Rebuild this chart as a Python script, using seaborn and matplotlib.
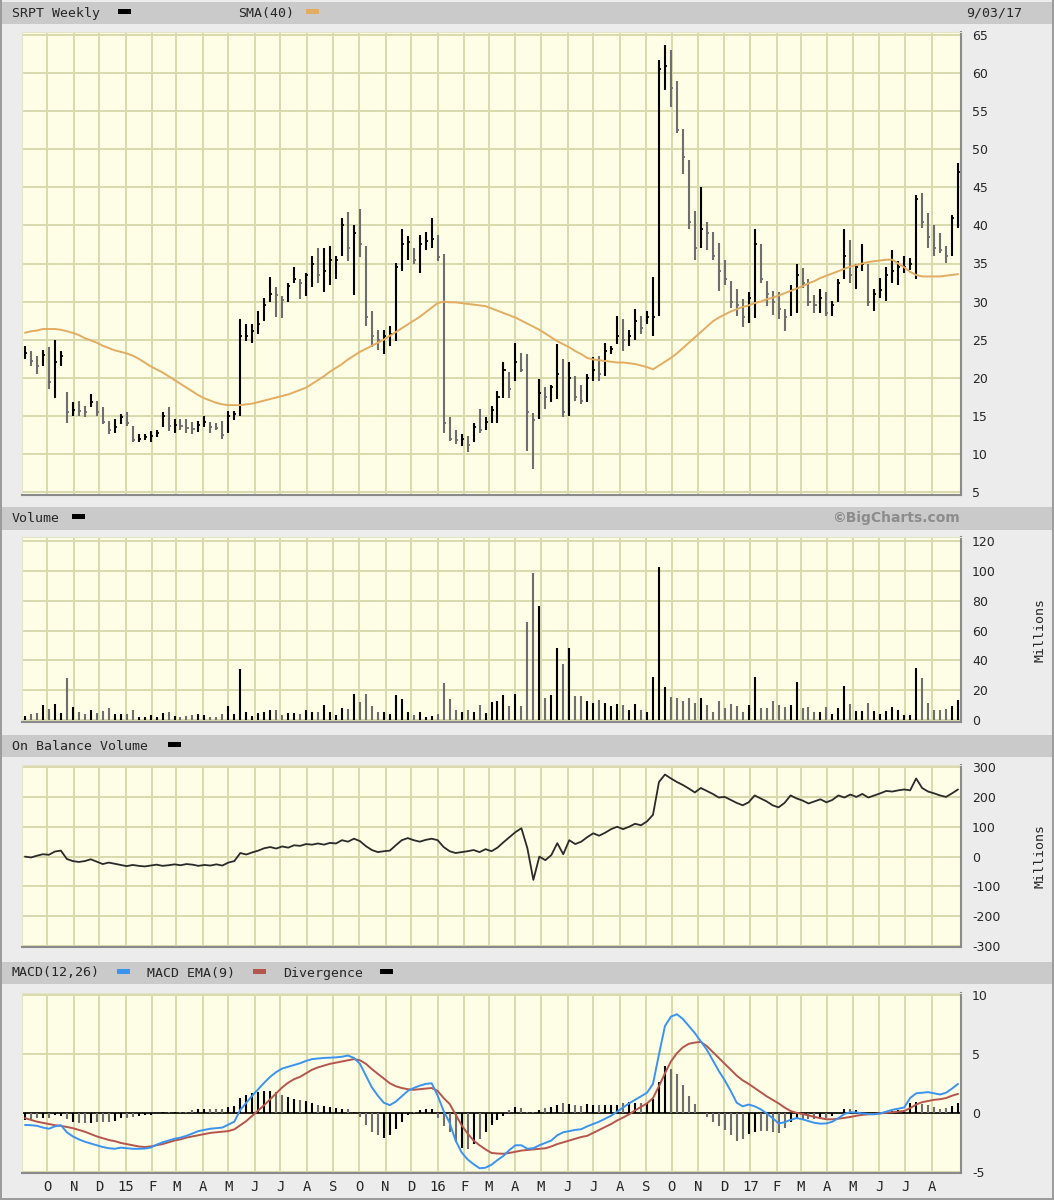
import numpy as np
import pandas as pd
import seaborn as sns
import matplotlib.pyplot as plt
import matplotlib.dates as mdates
from matplotlib.patches import Rectangle

# weekly bars, Sep 2014 - Sep 2017
weeks = pd.date_range("2014-09-05", periods=157, freq="7D")

high = [24.2, 23.5, 22.9, 23.7, 24.0, 25.0, 23.5, 18.1, 16.8, 16.9,
        16.3, 17.8, 17.0, 16.1, 14.3, 14.6, 15.2, 15.5, 13.7, 12.6,
        12.6, 13.0, 13.2, 15.5, 16.1, 14.6, 14.6, 14.6, 14.2, 14.3,
        15.0, 14.2, 14.0, 14.3, 15.6, 15.6, 27.7, 27.0, 27.0, 28.8,
        30.5, 33.2, 31.9, 30.7, 32.5, 34.6, 33.0, 33.8, 36.0, 37.1,
        37.1, 37.3, 36.0, 41.0, 41.7, 40.1, 42.1, 37.3, 28.7, 26.3,
        26.3, 26.8, 35.1, 39.5, 38.6, 37.1, 38.8, 39.1, 41.0, 38.8,
        36.2, 14.8, 13.2, 12.6, 12.4, 14.1, 15.9, 14.8, 16.3, 18.3,
        22.0, 20.7, 24.6, 23.3, 23.1, 15.4, 19.8, 18.8, 19.1, 24.4,
        22.4, 22.0, 20.2, 19.1, 20.5, 22.7, 22.9, 24.6, 24.2, 28.1,
        27.7, 26.3, 29.0, 28.1, 28.7, 33.2, 61.7, 63.7, 63.0, 58.9,
        52.6, 48.6, 41.9, 45.1, 40.5, 39.2, 37.7, 35.5, 32.7, 31.6,
        30.3, 31.2, 39.5, 37.5, 32.7, 31.4, 31.2, 29.0, 32.2, 34.9,
        34.4, 32.9, 30.9, 31.6, 31.2, 30.1, 32.9, 39.5, 38.1, 34.9,
        37.5, 34.9, 31.6, 33.1, 34.6, 36.8, 35.3, 36.0, 35.7, 44.0,
        44.3, 41.6, 40.1, 39.0, 37.3, 41.4, 48.2]

low = [22.4, 21.5, 20.5, 21.5, 18.5, 17.4, 21.5, 14.1, 15.0, 15.0,
       14.8, 16.1, 15.0, 13.9, 12.6, 12.8, 13.9, 13.6, 11.5, 11.5,
       11.8, 11.6, 12.2, 13.5, 13.0, 12.8, 13.2, 12.8, 12.6, 12.9,
       13.5, 12.8, 13.2, 11.9, 12.8, 14.5, 15.0, 24.8, 24.6, 25.7,
       27.4, 30.0, 28.0, 27.9, 30.0, 32.5, 30.3, 30.7, 31.9, 32.5,
       31.3, 32.2, 33.0, 36.0, 35.3, 30.9, 35.8, 26.8, 24.0, 23.7,
       23.1, 24.2, 24.8, 34.0, 35.5, 34.9, 33.8, 36.8, 37.1, 35.3,
       12.8, 11.7, 11.3, 11.1, 10.2, 11.5, 12.8, 13.2, 14.1, 14.1,
       17.4, 17.4, 19.6, 20.7, 10.4, 8.0, 14.6, 15.9, 16.8, 17.2,
       14.8, 15.0, 17.0, 16.5, 16.8, 19.6, 19.6, 20.2, 23.1, 24.4,
       23.5, 24.2, 25.0, 25.7, 27.0, 25.5, 28.1, 57.8, 55.6, 52.2,
       46.7, 39.5, 35.5, 37.1, 36.8, 35.5, 31.4, 32.2, 29.2, 28.1,
       26.6, 27.2, 27.9, 32.5, 29.4, 28.3, 27.7, 26.1, 28.1, 28.5,
       31.8, 29.4, 28.5, 28.5, 28.1, 28.1, 29.9, 32.9, 32.5, 31.6,
       34.0, 29.4, 28.7, 30.5, 30.1, 32.5, 32.2, 33.8, 34.2, 32.9,
       39.7, 37.1, 36.0, 36.4, 35.1, 36.0, 39.7]

close = [23.3, 22.2, 21.5, 23.0, 19.5, 22.0, 22.8, 15.5, 15.8, 15.6,
         15.5, 16.8, 15.5, 14.2, 13.2, 13.5, 14.8, 14.0, 11.8, 12.0,
         12.2, 12.4, 12.8, 15.0, 13.6, 13.8, 13.6, 13.4, 13.3, 13.8,
         14.2, 13.5, 13.4, 12.5, 15.0, 15.3, 25.5, 25.5, 26.2, 27.0,
         29.5, 31.0, 30.8, 30.2, 32.0, 33.0, 32.5, 33.5, 35.0, 33.5,
         34.0, 35.5, 35.5, 40.0, 37.0, 39.0, 37.5, 28.0, 25.5, 25.0,
         25.5, 25.8, 34.5, 37.5, 37.8, 35.5, 37.5, 38.0, 38.2, 35.8,
         14.0, 12.0, 11.8, 12.0, 11.2, 13.5, 13.2, 14.2, 15.8, 17.5,
         21.0, 18.5, 22.0, 21.0, 15.5, 14.5, 18.0, 17.5, 18.8, 20.5,
         15.5, 20.0, 17.5, 17.0, 20.0, 21.0, 20.5, 23.5, 23.8, 25.5,
         25.0, 25.5, 27.5, 26.5, 28.0, 28.0, 60.5, 61.0, 58.0, 52.5,
         49.0, 40.5, 37.0, 39.5, 39.0, 36.0, 34.0, 33.0, 30.0, 29.5,
         28.0, 30.5, 37.5, 33.0, 31.0, 30.0, 29.0, 28.0, 31.5, 33.5,
         32.5, 30.0, 29.5, 30.5, 28.5, 29.5, 32.5, 36.0, 33.5, 34.5,
         35.0, 30.0, 31.0, 31.5, 33.5, 34.0, 34.5, 34.5, 35.0, 43.5,
         40.5, 38.5, 37.0, 36.8, 36.0, 41.0, 47.0]

sma40 = [25.9, 26.1, 26.2, 26.4, 26.4, 26.4, 26.3, 26.1, 25.9, 25.6,
         25.2, 24.9, 24.6, 24.2, 23.9, 23.6, 23.4, 23.2, 22.9, 22.5,
         22.0, 21.5, 21.1, 20.7, 20.2, 19.7, 19.2, 18.7, 18.2, 17.7,
         17.3, 17.0, 16.7, 16.5, 16.4, 16.4, 16.4, 16.5, 16.6, 16.8,
         17.0, 17.2, 17.4, 17.6, 17.8, 18.1, 18.4, 18.7, 19.2, 19.7,
         20.2, 20.8, 21.3, 21.8, 22.4, 22.9, 23.4, 23.8, 24.2, 24.6,
         25.0, 25.5, 26.0, 26.5, 27.0, 27.5, 28.0, 28.6, 29.2, 29.8,
         30.0, 29.9, 29.9, 29.8, 29.7, 29.6, 29.5, 29.4, 29.1, 28.8,
         28.5, 28.2, 27.9, 27.5, 27.1, 26.7, 26.3, 25.8, 25.3, 24.8,
         24.4, 24.0, 23.5, 23.1, 22.6, 22.4, 22.3, 22.2, 22.1, 22.0,
         22.0, 21.9, 21.8, 21.6, 21.4, 21.1, 21.6, 22.1, 22.6, 23.2,
         23.9, 24.6, 25.3, 26.0, 26.7, 27.4, 27.9, 28.3, 28.7, 29.0,
         29.3, 29.5, 29.8, 30.0, 30.3, 30.5, 30.8, 31.1, 31.4, 31.7,
         32.0, 32.4, 32.7, 33.1, 33.4, 33.7, 34.0, 34.3, 34.6, 34.8,
         35.0, 35.2, 35.3, 35.4, 35.5, 35.5, 35.0, 34.5, 33.9, 33.5,
         33.3, 33.3, 33.3, 33.3, 33.4, 33.5, 33.6]

# millions of shares
volume = [3, 4, 4.5, 10, 7.4, 11, 4.5, 28, 8.5, 5.6,
          4, 7, 5, 6, 7.8, 4.2, 4.2, 4.2, 7, 2,
          2.2, 3.4, 2, 4.5, 5.6, 3, 2, 3, 3.4, 4,
          3.4, 2.2, 2, 4.2, 9.2, 4, 34, 5.6, 3, 4.7,
          5.6, 7, 7, 3.4, 4.5, 4.5, 4.2, 7, 5.6, 5.6,
          10, 5.6, 3.4, 7.8, 7.4, 17.5, 11.9, 17.2, 9.2, 5.6,
          5.6, 4.2, 16.5, 13.9, 5.6, 3.4, 5.6, 2, 3, 4.2,
          24.6, 13.9, 7, 5.6, 7, 5.1, 10, 4.5, 11.9, 12.8,
          16.8, 9.2, 17.5, 9.2, 66, 98.4, 76.4, 15, 16.6, 48.4,
          37.5, 48.4, 16, 16, 12.5, 11.6, 13.6, 11.4, 9.1, 10.5,
          9.8, 6.8, 10.5, 6.8, 5.2, 29, 102.5, 22.3, 15.5, 14.8,
          12.5, 14.8, 11.4, 14.8, 10.2, 5.2, 12.5, 8, 10.5, 9.5,
          5.2, 9.8, 28.6, 8, 8, 12.5, 9.8, 8.6, 9.8, 25.7,
          8, 8.6, 5.2, 5.2, 8.6, 4, 8, 22.7, 10.5, 6.4,
          6.4, 11.4, 6.4, 4.1, 6.4, 8.6, 6.8, 3.6, 3.6, 34.8,
          28, 11.4, 6.8, 6.8, 7.5, 9.1, 13.6]

obv = [0, -3, 3, 8, 6, 17, 20, -8, -15, -18,
       -15, -9, -17, -25, -20, -24, -28, -32, -28, -31,
       -33, -30, -27, -31, -29, -26, -29, -25, -27, -31,
       -28, -30, -26, -30, -20, -15, 12, 7, 14, 20,
       28, 32, 27, 34, 30, 38, 36, 42, 40, 44,
       40, 46, 44, 55, 50, 60, 52, 35, 22, 15,
       18, 20, 38, 55, 62, 55, 50, 56, 60, 55,
       32, 18, 12, 15, 18, 22, 15, 25, 18, 30,
       48, 65, 82, 95, 28, -78, 0, -12, 5, 45,
       8, 55, 42, 50, 65, 78, 70, 80, 92, 100,
       92, 100, 110, 105, 118, 140, 250, 275, 262, 250,
       240, 228, 215, 230, 220, 210, 198, 200, 190, 180,
       172, 182, 205, 195, 185, 172, 165, 180, 205, 195,
       188, 178, 185, 192, 182, 190, 205, 198, 208, 200,
       210, 198, 205, 212, 220, 218, 222, 225, 222, 262,
       230, 218, 212, 205, 200, 212, 225]

macd = [-0.98, -1.0, -1.05, -1.2, -1.3, -1.1, -1.0, -1.6, -1.95, -2.2,
        -2.4, -2.55, -2.7, -2.85, -2.95, -3.0, -2.9, -2.95, -3.0, -3.0,
        -2.98, -2.9, -2.65, -2.45, -2.3, -2.15, -2.05, -1.9, -1.7, -1.5,
        -1.4, -1.3, -1.25, -1.2, -0.95, -0.7, 0.3, 0.9, 1.5, 2.05,
        2.6, 3.1, 3.5, 3.8, 3.95, 4.1, 4.25, 4.45, 4.6, 4.65,
        4.7, 4.72, 4.75, 4.8, 4.9, 4.7, 4.2, 3.2, 2.2, 1.5,
        0.9, 0.7, 1.0, 1.45, 1.9, 2.15, 2.35, 2.5, 2.55, 1.5,
        0.2, -0.8, -2.3, -3.3, -3.9, -4.3, -4.65, -4.6, -4.35, -3.95,
        -3.6, -3.1, -2.7, -2.7, -3.0, -2.95, -2.7, -2.5, -2.3, -1.85,
        -1.6, -1.5, -1.4, -1.34, -1.1, -0.9, -0.7, -0.45, -0.2, 0.15,
        0.5, 0.85, 1.15, 1.45, 1.75, 2.5, 5.0, 7.4, 8.2, 8.4,
        8.0, 7.4, 6.8, 6.1, 5.4, 4.5, 3.6, 2.8, 1.9, 0.9,
        0.6, 0.75, 0.6, 0.35, 0.0, -0.4, -0.85, -0.75, -0.55, -0.4,
        -0.5, -0.65, -0.8, -0.87, -0.85, -0.7, -0.4, -0.05, 0.1, 0.08,
        0.0, -0.05, -0.08, 0.0, 0.15, 0.3, 0.4, 0.5, 1.3, 1.7,
        1.75, 1.8, 1.7, 1.6, 1.75, 2.1, 2.5]

macd_ema = [-0.4, -0.55, -0.7, -0.8, -0.9, -1.0, -1.06, -1.15, -1.25, -1.4,
            -1.55, -1.75, -1.95, -2.1, -2.25, -2.35, -2.5, -2.6, -2.7, -2.8,
            -2.85, -2.8, -2.7, -2.6, -2.45, -2.3, -2.2, -2.05, -1.95, -1.85,
            -1.75, -1.65, -1.6, -1.55, -1.5, -1.35, -1.0, -0.65, -0.2, 0.25,
            0.7, 1.2, 1.7, 2.2, 2.6, 2.9, 3.1, 3.4, 3.7, 3.9,
            4.05, 4.2, 4.3, 4.4, 4.5, 4.6, 4.5, 4.2, 3.75, 3.35,
            2.95, 2.55, 2.3, 2.15, 2.05, 2.0, 2.05, 2.1, 2.15, 1.9,
            1.3, 0.8, -0.1, -1.0, -1.7, -2.3, -2.7, -3.05, -3.35, -3.4,
            -3.42, -3.35, -3.25, -3.15, -3.1, -3.05, -3.0, -2.96, -2.8, -2.6,
            -2.45, -2.3, -2.15, -2.0, -1.9, -1.65, -1.4, -1.15, -0.9, -0.6,
            -0.35, -0.08, 0.25, 0.55, 0.85, 1.3, 2.3, 3.4, 4.4, 5.1,
            5.6, 5.9, 6.0, 6.06, 5.7, 5.2, 4.7, 4.2, 3.7, 3.2,
            2.8, 2.5, 2.15, 1.8, 1.45, 1.15, 0.85, 0.5, 0.2, 0.05,
            -0.05, -0.17, -0.3, -0.4, -0.5, -0.5, -0.45, -0.38, -0.3, -0.2,
            -0.12, -0.08, -0.05, 0.0, 0.05, 0.1, 0.15, 0.2, 0.45, 0.75,
            0.95, 1.05, 1.15, 1.2, 1.3, 1.5, 1.65]

divergence = [-0.58, -0.45, -0.35, -0.4, -0.4, -0.1, -0.2, -0.45, -0.7, -0.8,
              -0.85, -0.8, -0.75, -0.75, -0.7, -0.65, -0.4, -0.35, -0.3, -0.2,
              -0.13, -0.1, 0.05, 0.15, 0.15, 0.15, 0.15, 0.15, 0.25, 0.35,
              0.35, 0.35, 0.35, 0.35, 0.55, 0.65, 1.3, 1.55, 1.7, 1.8,
              1.9, 1.9, 1.8, 1.6, 1.35, 1.2, 1.15, 1.05, 0.9, 0.75,
              0.65, 0.52, 0.45, 0.4, 0.4, 0.1, -0.3, -1.0, -1.55, -1.85,
              -2.05, -1.85, -1.3, -0.7, -0.15, 0.15, 0.3, 0.4, 0.4, -0.4,
              -1.1, -1.6, -2.4, -2.9, -3.05, -2.6, -2.2, -1.55, -1.0, -0.55,
              -0.2, 0.25, 0.55, 0.45, 0.1, 0.1, 0.3, 0.46, 0.5, 0.75,
              0.85, 0.8, 0.75, 0.66, 0.8, 0.75, 0.7, 0.7, 0.7, 0.75,
              0.85, 0.93, 0.9, 0.9, 0.9, 1.2, 2.7, 4.0, 3.8, 3.3,
              2.4, 1.5, 0.8, 0.04, -0.3, -0.7, -1.1, -1.4, -1.8, -2.3,
              -2.2, -1.75, -1.55, -1.45, -1.45, -1.55, -1.7, -1.25, -0.75, -0.45,
              -0.45, -0.48, -0.5, -0.47, -0.35, -0.2, 0.05, 0.33, 0.4, 0.28,
              0.12, 0.03, -0.03, 0.0, 0.1, 0.2, 0.25, 0.3, 0.85, 0.95,
              0.8, 0.75, 0.55, 0.4, 0.45, 0.6, 0.85]

month_ticks = pd.date_range("2014-10-01", periods=35, freq="MS")
month_labels = ["O", "N", "D", "15", "F", "M", "A", "M", "J", "J", "A", "S",
                "O", "N", "D", "16", "F", "M", "A", "M", "J", "J", "A", "S",
                "O", "N", "D", "17", "F", "M", "A", "M", "J", "J", "A"]

# colours
PAGE = "#ececec"
BAND = "#cacaca"
PLOT_BG = "#fefee6"
GRID = "#dadaae"
SMA_C = "#e2ac62"
BLUE = "#3a93f0"
RED = "#b5554c"

W, H = 1054, 1200
x = mdates.date2num(weeks)
mx = mdates.date2num(month_ticks)
xlim = (mdates.date2num(pd.Timestamp("2014-09-01 12:00")),
        mdates.date2num(pd.Timestamp("2017-09-04 12:00")))
up = [True] + [close[i] >= close[i - 1] for i in range(1, len(close))]
bar_cols = ["#000000" if u else "#6e6e6e" for u in up]

sns.set_style("white")
plt.rcParams["font.family"] = ["DejaVu Sans"]
plt.rcParams["axes.unicode_minus"] = False

fig = plt.figure(figsize=(W / 100, H / 100), dpi=100)
fig.patch.set_facecolor(PAGE)


def band(y0, y1):
    fig.add_artist(Rectangle((0, 1 - y1 / H), 1, (y1 - y0) / H, transform=fig.transFigure,
                             facecolor=BAND, edgecolor="none", zorder=0))


def dash(xp, yp, color):
    fig.add_artist(Rectangle((xp / W, 1 - (yp + 3) / H), 13 / W, 5 / H, transform=fig.transFigure,
                             facecolor=color, edgecolor="none"))


def label(xp, yp, s, **kw):
    fig.text(xp / W, 1 - yp / H, s, va="center", family="DejaVu Sans Mono", fontsize=9.5, **kw)


def panel(top, bottom, ylim, yticks):
    ax = fig.add_axes([22 / W, 1 - bottom / H, 939 / W, (bottom - top) / H])
    ax.set_facecolor(PLOT_BG)
    ax.set_xlim(*xlim)
    ax.set_ylim(*ylim)
    ax.set_yticks(yticks)
    ax.set_xticks(mx)
    ax.yaxis.tick_right()
    ax.tick_params(axis="y", length=0, pad=8, labelsize=9)
    ax.tick_params(axis="x", length=0, labelbottom=False)
    ax.grid(True, color=GRID, lw=1.4)
    ax.set_axisbelow(True)
    for s in ["left", "top"]:
        ax.spines[s].set_color("#e4e4c8")
    for s in ["right", "bottom"]:
        ax.spines[s].set_color("#8a8a8a")
        ax.spines[s].set_linewidth(1.5)
    return ax


# header bands
band(2, 24)
band(507, 530)
band(735, 757)
band(962, 984)

# thin frame round the picture
fig.add_artist(Rectangle((0, 0), 2 / W, 1, transform=fig.transFigure,
                         facecolor="#9c9c9c", edgecolor="none"))
fig.add_artist(Rectangle((1 - 2 / W, 0), 2 / W, 1, transform=fig.transFigure,
                         facecolor="#9c9c9c", edgecolor="none"))
fig.add_artist(Rectangle((0, 0), 1, 2 / H, transform=fig.transFigure,
                         facecolor="#9c9c9c", edgecolor="none"))

label(12, 13, "SRPT Weekly")
dash(118, 11, "black")
label(238, 13, "SMA(40)")
dash(306, 11, SMA_C)
label(1022, 13, "9/03/17", ha="right")

label(12, 518, "Volume")
dash(72, 516, "black")
fig.text(960 / W, 1 - 518 / H, "\u00a9BigCharts.com", ha="right", va="center",
         fontsize=10, fontweight="bold", color="#8c8c8c")

label(12, 746, "On Balance Volume")
dash(168, 744, "black")

label(12, 973, "MACD(12,26)")
dash(117, 971, BLUE)
label(147, 973, "MACD EMA(9)")
dash(253, 971, RED)
label(283, 973, "Divergence")
dash(380, 971, "black")

# price panel
ax_p = panel(32, 495, (4.6, 65.4), range(5, 70, 5))
ax_p.vlines(x, low, high, colors=bar_cols, lw=1.5)
ax_p.hlines(close, x, x + 2.4, colors=bar_cols, lw=1.3)
sns.lineplot(x=x, y=sma40, ax=ax_p, color=SMA_C, lw=1.4)

# volume panel
ax_v = panel(537, 722, (-1.3, 122.7), range(0, 140, 20))
ax_v.vlines(x, 0, volume, colors=bar_cols, lw=1.5)

# on balance volume
ax_o = panel(765, 947, (-303, 307), range(-300, 400, 100))
sns.lineplot(x=x, y=obv, ax=ax_o, color="#2a2a2a", lw=1.3)

for yc in [(537 + 722) / 2, (765 + 947) / 2]:
    fig.text(1040 / W, 1 - yc / H, "Millions", rotation=90, ha="center", va="center",
             family="DejaVu Sans Mono", fontsize=9.5)

# MACD panel
ax_m = panel(993, 1173, (-5.05, 10.2), [-5, 0, 5, 10])
ax_m.axhline(0, color="black", lw=1.2, zorder=2)
ax_m.vlines(x, 0, divergence, colors=bar_cols, lw=1.5, zorder=2)
sns.lineplot(x=x, y=macd_ema, ax=ax_m, color=RED, lw=1.4, zorder=3)
sns.lineplot(x=x, y=macd, ax=ax_m, color=BLUE, lw=1.4, zorder=4)
ax_m.tick_params(axis="x", labelbottom=True, pad=5)
ax_m.set_xticklabels(month_labels, family="DejaVu Sans Mono", fontsize=10)

for ax in [ax_p, ax_v, ax_o, ax_m]:
    ax.set_xlabel("")
    ax.set_ylabel("")

fig.savefig("out.png", dpi=100, facecolor=PAGE)
